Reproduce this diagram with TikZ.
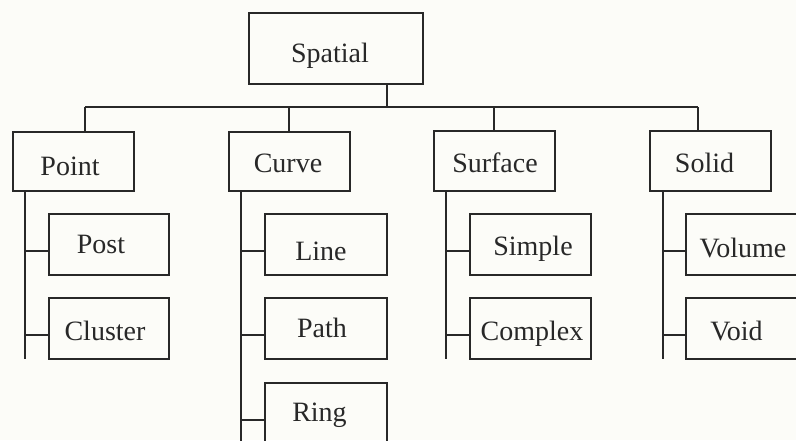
\documentclass[tikz,border=0pt]{standalone}
\usepackage{fontspec}
\setmainfont{Liberation Serif}
\definecolor{paper}{RGB}{252,252,248}
\definecolor{ink}{RGB}{40,40,40}
\begin{document}
\begin{tikzpicture}[x=1pt,y=-1pt,
  box/.style={draw=ink, line width=1.8pt, rectangle, inner sep=0pt, outer sep=0pt},
  lbl/.style={anchor=base, inner sep=0pt, text=ink, font=\fontsize{28}{32}\selectfont},
  conn/.style={draw=ink, line width=1.8pt}]
\path[use as bounding box, fill=paper] (0,0) rectangle (796,440);
\clip (0,0) rectangle (796,440);
% boxes: centre and size from the reference
\node[box, minimum width=174pt, minimum height=71pt] (sp) at (336,48.5) {};
\node[box, minimum width=121pt, minimum height=59pt] (pt) at (73.5,161.5) {};
\node[box, minimum width=121pt, minimum height=59pt] (cv) at (289.5,161.5) {};
\node[box, minimum width=121pt, minimum height=60pt] (sf) at (494.5,161) {};
\node[box, minimum width=121pt, minimum height=60pt] (sd) at (710.5,161) {};
\node[box, minimum width=120pt, minimum height=61pt] (post) at (109,244.5) {};
\node[box, minimum width=120pt, minimum height=61pt] (clu) at (109,328.5) {};
\node[box, minimum width=122pt, minimum height=61pt] (line) at (326,244.5) {};
\node[box, minimum width=122pt, minimum height=61pt] (path) at (326,328.5) {};
\node[box, minimum width=122pt, minimum height=77pt] (ring) at (326,421.5) {};
\node[box, minimum width=121pt, minimum height=61pt] (simp) at (530.5,244.5) {};
\node[box, minimum width=121pt, minimum height=61pt] (cplx) at (530.5,328.5) {};
\node[box, minimum width=124pt, minimum height=61pt] (vol) at (748,244.5) {};
\node[box, minimum width=124pt, minimum height=61pt] (void) at (748,328.5) {};
% labels
\node[lbl] (spT) at (330,62) {Spatial};
\node[lbl] (ptT) at (70,175) {Point};
\node[lbl] (cvT) at (288,172) {Curve};
\node[lbl] (sfT) at (495,172) {Surface};
\node[lbl] (sdT) at (704.5,172) {Solid};
\node[lbl] (postT) at (101,253) {Post};
\node[lbl] (cluT) at (105,340) {Cluster};
\node[lbl] (lineT) at (321,260) {Line};
\node[lbl] (pathT) at (322,337) {Path};
\node[lbl] (ringT) at (319.5,421) {Ring};
\node[lbl] (simpT) at (533,255) {Simple};
\node[lbl] (cplxT) at (532,340) {Complex};
\node[lbl] (volT) at (743,257) {Volume};
\node[lbl] (voidT) at (736.5,340) {Void};
% junction coordinates
\coordinate (jt) at (387,107);
\coordinate (barL) at (85,107);
\coordinate (barR) at (698,107);
\coordinate (jcv) at (289,107);
\coordinate (jsf) at (494,107);
\coordinate (ptEnd) at (25,359);
\coordinate (cvEnd) at (241,450);
\coordinate (sfEnd) at (446,359);
\coordinate (sdEnd) at (663,359);
% top tree
\draw[conn] (jt |- sp.south) -- (jt);
\draw[conn] (barL) -- (barR);
\draw[conn] (barL) -- (barL |- pt.north);
\draw[conn] (jcv) -- (jcv |- cv.north);
\draw[conn] (jsf) -- (jsf |- sf.north);
\draw[conn] (barR) -- (barR |- sd.north);
% trunks
\draw[conn] (ptEnd |- pt.south) -- (ptEnd);
\draw[conn] (cvEnd |- cv.south) -- (cvEnd);
\draw[conn] (sfEnd |- sf.south) -- (sfEnd);
\draw[conn] (sdEnd |- sd.south) -- (sdEnd);
% branches
\foreach \b/\t in {post/ptEnd, clu/ptEnd, line/cvEnd, path/cvEnd, ring/cvEnd, simp/sfEnd, cplx/sfEnd, vol/sdEnd, void/sdEnd}{
  \path ([yshift=-37pt]\b.north west) coordinate (tmp);
  \draw[conn] (tmp) -- (tmp -| \t);
}
\end{tikzpicture}
\end{document}
